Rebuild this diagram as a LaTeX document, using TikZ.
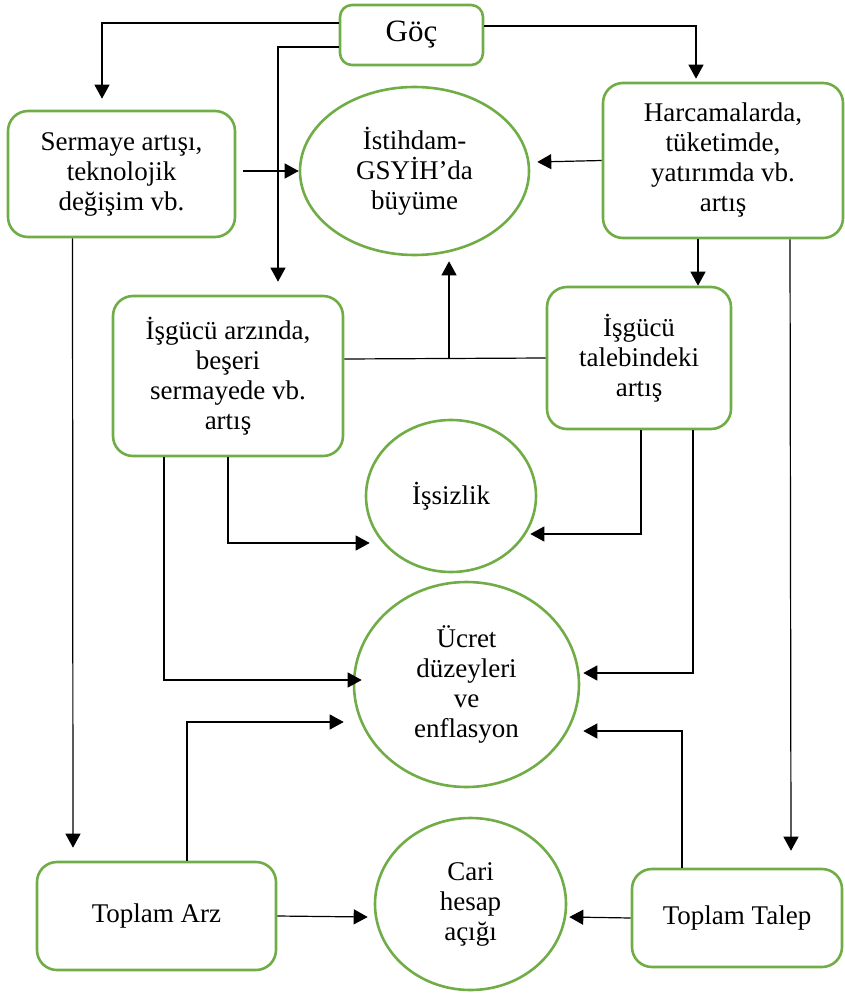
\documentclass[tikz,border=0pt]{standalone}
\usepackage{fontspec}
\setmainfont{Liberation Serif}
\usepackage{tikz}
\usetikzlibrary{shapes.geometric,arrows.meta}
\definecolor{boxgreen}{HTML}{70AD47}

\begin{document}
\begin{tikzpicture}[x=1pt, y=-1pt,
    font=\fontsize{27}{30}\selectfont,
    box/.style={draw=boxgreen, line width=2.6pt, rounded corners=20pt, align=center, inner sep=0pt},
    oval/.style={draw=boxgreen, line width=2.6pt, ellipse, align=center, inner sep=0pt},
    link/.style={line width=1.2pt},
    arr/.style={line width=1.2pt, -{Triangle[length=14pt, width=15pt]}}]
    \useasboundingbox (0,0) rectangle (844,995);

    \node[box, rounded corners=12pt, minimum width=143pt, minimum height=60pt, font=\fontsize{31}{35}\selectfont] (goc) at (411.5,35) {Göç};
    \node[box, minimum width=227pt, minimum height=126pt] (serm) at (121.5,174) {Sermaye artışı,\\teknolojik\\değişim vb.};
    \node[oval, minimum width=229pt, minimum height=168pt] (istih) at (414.5,171) {İstihdam-\\GSYİH’da\\büyüme};
    \node[box, minimum width=240pt, minimum height=155pt] (harc) at (723,160.5) {Harcamalarda,\\tüketimde,\\yatırımda vb.\\artış};
    \node[box, minimum width=230pt, minimum height=160pt] (arz) at (228,376) {İşgücü arzında,\\beşeri\\sermayede vb.\\artış};
    \node[box, minimum width=184pt, minimum height=142pt] (talep) at (639,358) {İşgücü\\talebindeki\\artış};
    \node[oval, minimum width=170pt, minimum height=152pt] (issiz) at (451,496) {İşsizlik};
    \node[oval, minimum width=225pt, minimum height=205pt] (ucret) at (466.5,684.5) {Ücret\\düzeyleri\\ve\\enflasyon};
    \node[box, minimum width=239pt, minimum height=108pt] (tarz) at (156.5,916) {Toplam Arz};
    \node[oval, minimum width=191pt, minimum height=172pt] (cari) at (470.5,904) {Cari\\hesap\\açığı};
    \node[box, minimum width=210pt, minimum height=98pt] (ttalep) at (737,918) {Toplam Talep};

    \draw[arr] ([yshift=12]goc.west) -| ([xshift=-19.5,yshift=11]serm.north);
    \draw[arr] ([yshift=-12]goc.west) -| ([xshift=50,yshift=13]arz.north);
    \draw[arr] ([yshift=9]goc.east) -| ([xshift=-27,yshift=3]harc.north);

    \draw[arr] ([xshift=7,yshift=3]serm.east) -- (istih.west);
    \draw[arr] (harc.west) -- ([xshift=7,yshift=9]istih.east);
    \draw[arr] ([xshift=-25]harc.south) -- ([xshift=59]talep.north);
    \draw[arr] ([xshift=67]harc.south) -- ([xshift=54,yshift=17]ttalep.north);
    \draw[arr] ([xshift=-49]serm.south) -- ([xshift=-83.5,yshift=13]tarz.north);

    \draw[link] ([yshift=17]arz.east) -- coordinate[pos=0.52] (mid) (talep.west);
    \draw[arr, shorten >=5pt] (mid) -- (mid |- istih.south);

    \draw[arr] (arz.south) |- ([xshift=5,yshift=-47]issiz.west);
    \draw[arr] ([xshift=2]talep.south) |- ([xshift=-7,yshift=-38]issiz.east);
    \draw[arr] ([xshift=-64]arz.south) |- ([xshift=9,yshift=4.5]ucret.west);
    \draw[arr] ([xshift=54]talep.south) |- ([xshift=3,yshift=11.5]ucret.east);
    \draw[arr] ([xshift=30.5]tarz.north) |- ([xshift=-9,yshift=-37.5]ucret.west);
    \draw[arr] ([xshift=-55]ttalep.north) |- ([xshift=3,yshift=-46.5]ucret.east);
    \draw[arr] (tarz.east) -- ([xshift=-6,yshift=-13]cari.west);
    \draw[arr] (ttalep.west) -- ([xshift=2,yshift=-13]cari.east);
\end{tikzpicture}
\end{document}
